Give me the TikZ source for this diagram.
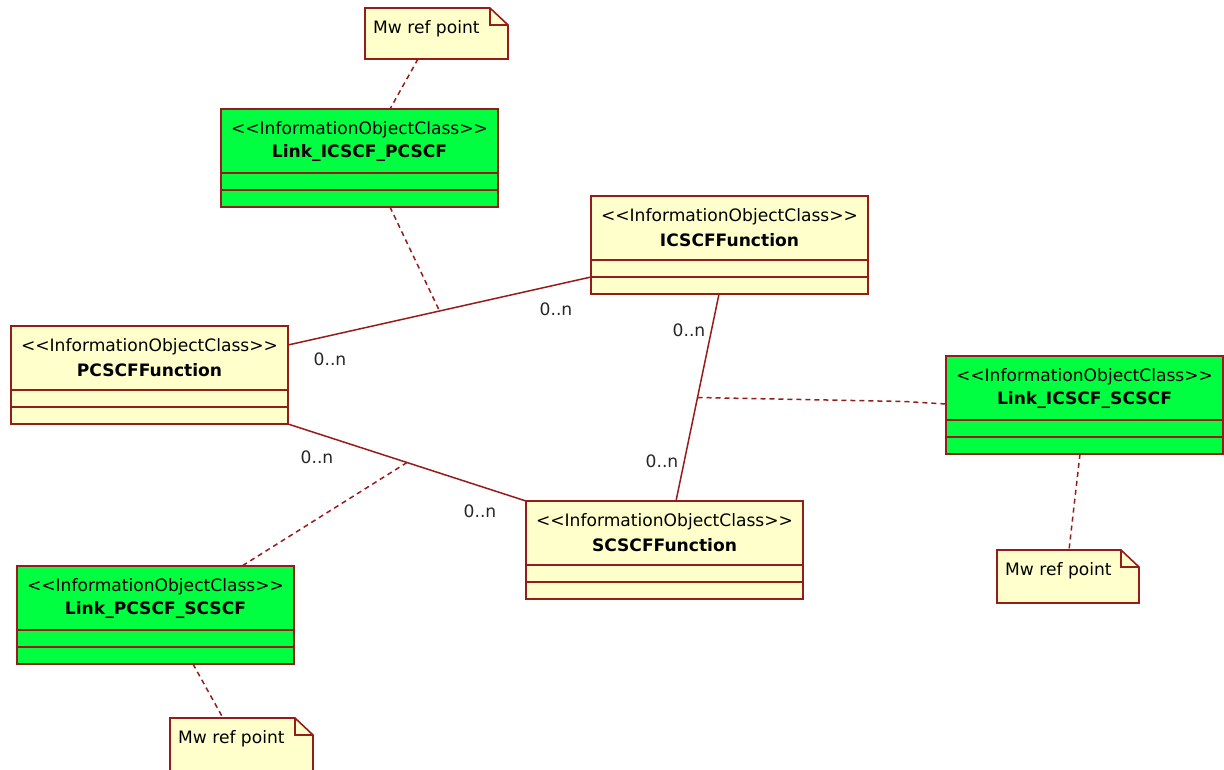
\documentclass[tikz,border=0pt]{standalone}
\usepackage{fontspec}
\setmainfont{DejaVu Sans}[Ligatures=TeXOff]
\usetikzlibrary{calc}
\definecolor{umlred}{RGB}{150,28,28}
\definecolor{cream}{RGB}{255,255,204}
\definecolor{lgreen}{RGB}{0,255,64}
\tikzset{
  box/.style={draw=umlred, line width=1.8pt, minimum width=277pt, minimum height=98pt, anchor=north west, inner sep=0pt, outer sep=0pt},
  cls/.style={box, fill=cream},
  lnk/.style={box, fill=lgreen},
  boxline/.style={draw=umlred, line width=1.6pt},
  txt/.style={font=\fontsize{17.1}{20}\selectfont, inner sep=0pt, text=black},
  btxt/.style={font=\bfseries\fontsize{17.1}{20}\selectfont, inner sep=0pt, text=black},
  notebox/.style={minimum width=143pt, anchor=north west, inner sep=0pt, outer sep=0pt},
  notefill/.style={draw=umlred, line width=1.6pt, fill=cream},
  assoc/.style={draw=umlred, line width=1.5pt},
  anchorline/.style={draw=umlred, line width=1.5pt, dash pattern=on 5pt off 4pt},
  mult/.style={txt, text=black!85},
}
\newcommand\umlclass[5]{%
  \node[#2] (#1) at (#3,#4) {};
  \node[txt] (#1-s) at ($(#1.north)+(0,21)$) {\textless\textless InformationObjectClass\textgreater\textgreater};
  \node[btxt] (#1-n) at ($(#1.north)+(0,44)$) {#5};
  \draw[boxline] ($(#1.north west)+(0,64)$) -- ($(#1.north east)+(0,64)$);
  \draw[boxline] ($(#1.north west)+(0,81)$) -- ($(#1.north east)+(0,81)$);
}
\newcommand\umlnote[5]{%
  \node[notebox, minimum width=#4pt, minimum height=#5pt] (#1) at (#2,#3) {};
  \draw[notefill] (#1.north west) -- ($(#1.north east)+(-18,0)$) -- ($(#1.north east)+(0,17)$) -- (#1.south east) -- (#1.south west) -- cycle;
  \draw[boxline] ($(#1.north east)+(-18,0)$) -- ($(#1.north east)+(-18,17)$) -- ($(#1.north east)+(0,17)$);
  \node[txt, anchor=west] (#1-t) at ($(#1.north west)+(8,21)$) {Mw ref point};
}
\begin{document}
\begin{tikzpicture}[x=1pt,y=-1pt]
\useasboundingbox[fill=white] (0,0) rectangle (1224,769);

% associations (drawn first)
\umlclass{lip}{lnk}{221}{109}{Link\_ICSCF\_PCSCF}
\umlclass{icscf}{cls}{591}{196}{ICSCFFunction}
\umlclass{pcscf}{cls}{11}{326}{PCSCFFunction}
\umlclass{lis}{lnk}{946}{356}{Link\_ICSCF\_SCSCF}
\umlclass{scscf}{cls}{526}{501}{SCSCFFunction}
\umlclass{lps}{lnk}{17}{566}{Link\_PCSCF\_SCSCF}

\umlnote{n1}{365}{8}{143}{51}
\umlnote{n2}{997}{550}{142}{53}
\umlnote{n3}{170}{718}{143}{56}

\draw[assoc] ($(pcscf.north east)+(0,19)$) coordinate (a1s) -- ($(icscf.north west)+(0,81)$) coordinate (a1e);
\coordinate (m1) at ($(a1s)!0.5!(a1e)$);
\draw[assoc] ($(icscf.south west)+(128,0)$) coordinate (a2s) -- ($(scscf.north west)+(150,0)$) coordinate (a2e);
\coordinate (m2) at ($(a2s)!0.5!(a2e)$);
\draw[assoc] (pcscf.south east) coordinate (a3s) -- (scscf.north west) coordinate (a3e);
\coordinate (m3) at ($(a3s)!0.5!(a3e)$);

\draw[anchorline] ($(lip.south west)+(169,0)$) -- (m1);
\coordinate (k2) at ($(m2)+(207,4)$);
\draw[anchorline] (m2) -- (k2) -- ($(lis.north west)+(0,48)$);
\draw[anchorline] (m3) -- ($(lps.north west)+(225,0)$);

\draw[anchorline] ($(n1.south west)+(53,0)$) -- ($(lip.north west)+(169,0)$);
\draw[anchorline] ($(lis.south west)+(134,0)$) -- ($(n2.north west)+(72,0)$);
\draw[anchorline] ($(lps.south west)+(176,0)$) -- ($(n3.north west)+(53,0)$);

\node[mult] (l1) at (556,309) {0..n};
\node[mult] (l2) at (330,359) {0..n};
\node[mult] (l3) at (689,330) {0..n};
\node[mult] (l4) at (662,461) {0..n};
\node[mult] (l5) at (317,457) {0..n};
\node[mult] (l6) at (480,511) {0..n};
\end{tikzpicture}
\end{document}
